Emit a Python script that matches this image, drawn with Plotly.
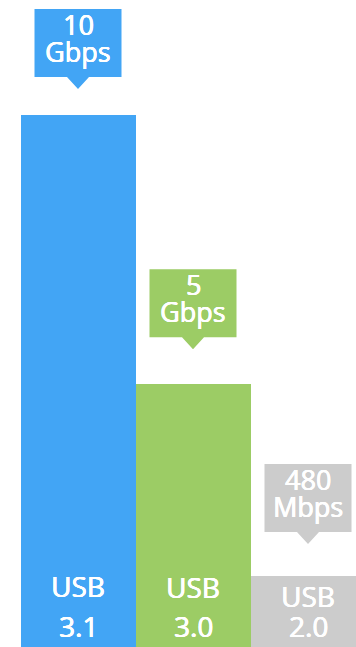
import plotly.graph_objects as go

# ---- data ----
categories = ["USB 3.1", "USB 3.0", "USB 2.0"]
versions = ["3.1", "3.0", "2.0"]
speed_labels = [["10", "Gbps"], ["5", "Gbps"], ["480", "Mbps"]]
bar_heights = [10, 4.94, 1.335]   # bar heights as drawn
colors = ["#42A5F5", "#9CCC65", "#CCCCCC"]

# ---- layout constants (pixels) ----
W, H = 356, 647
callout_gap = [26, 35, 32]      # tip distance above bar top
usb_base = [50, 49, 40]         # "USB" baseline above axis bottom
ver_base = 9
box_w, box_h, tri_h, tri_hw = 87, 68, 12, 11
FONT = "Open Sans"
SHADOW = "0.45px 0 0 white, -0.2px 0 0 white, 0 0.3px 0 white"

xs = list(range(len(categories)))
fig = go.Figure(go.Bar(x=xs, y=bar_heights, marker=dict(color=colors, line=dict(width=0)),
                       width=1, hoverinfo="skip"))

shapes, annots = [], []
for i, (v, c) in enumerate(zip(bar_heights, colors)):
    g = callout_gap[i]
    b = g + tri_h
    t = b + box_h
    hw = box_w / 2
    path = (f"M {-hw},{b} L {-tri_hw},{b} L 0,{g} L {tri_hw},{b} L {hw},{b} "
            f"L {hw},{t} L {-hw},{t} Z")
    shapes.append(dict(type="path", xref="x", yref="y", xsizemode="pixel", ysizemode="pixel",
                       xanchor=i, yanchor=v, path=path, fillcolor=c, line=dict(width=0)))
    top, bot = speed_labels[i]
    for txt, base in ((bot, b + 14), (top, b + 41)):
        annots.append(dict(x=i, y=v, xref="x", yref="y", text=txt, showarrow=False,
                           yanchor="bottom", yshift=base - 8, borderpad=0,
                           font=dict(family=FONT, size=27, color="white", shadow=SHADOW)))
    annots.append(dict(x=i, y=0, xref="x", yref="y", text="USB", showarrow=False,
                       yanchor="bottom", yshift=usb_base[i] - 9, borderpad=0,
                       font=dict(family=FONT, size=28, color="white", shadow=SHADOW)))
    annots.append(dict(x=i, y=0, xref="x", yref="y", text=versions[i], showarrow=False,
                       yanchor="bottom", yshift=ver_base - 8, borderpad=0,
                       font=dict(family=FONT, size=28, color="white", shadow=SHADOW)))

ymax = 10 * H / (H - 115)
fig.update_layout(
    width=W, height=H, margin=dict(l=0, r=0, t=0, b=0),
    paper_bgcolor="white", plot_bgcolor="white", bargap=0, showlegend=False,
    xaxis=dict(range=[-78 / 115, (W - 78) / 115], visible=False, fixedrange=True),
    yaxis=dict(range=[0, ymax], visible=False, fixedrange=True),
    shapes=shapes, annotations=annots,
)
fig.write_html("out.html", config={"displayModeBar": False})
